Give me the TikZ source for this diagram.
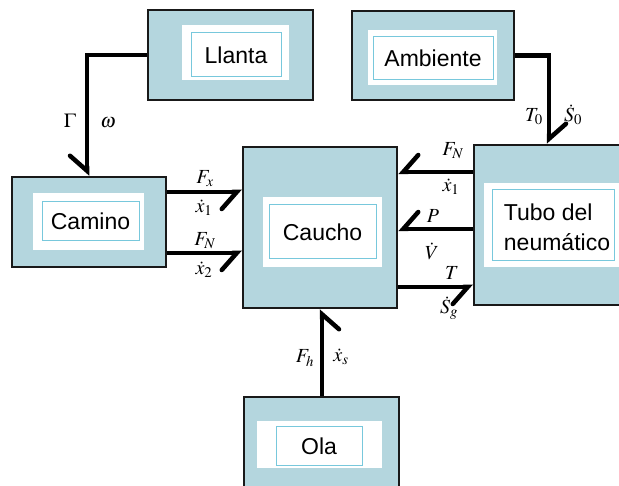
\documentclass[tikz,border=0pt]{standalone}
\usepackage{mathptmx}
\usepackage{fontspec}
\setmainfont{Liberation Sans}
\usetikzlibrary{arrows.meta,calc}
\definecolor{boxblue}{RGB}{180,214,222}
\definecolor{innercyan}{RGB}{120,200,220}
\begin{document}
\begin{tikzpicture}[x=1pt,y=-1pt,
  outer/.style={draw=black!90,line width=2.5pt,fill=boxblue,inner sep=0pt},
  whitebox/.style={fill=white,inner sep=0pt},
  textbox/.style={draw=innercyan,line width=1pt,fill=white,inner sep=0pt,font=\fontsize{23}{29}\selectfont},
  connR/.style={line width=4.5pt,-{Straight Barb[harpoon,swap,length=15pt,width=34pt,line cap=round]}},
  connL/.style={line width=4.5pt,-{Straight Barb[harpoon,length=15pt,width=34pt,line cap=round]}},
  lab/.style={font=\fontsize{20}{22}\selectfont,inner sep=0pt}]
\useasboundingbox (0,0) rectangle (619,486);
\clip (0,0) rectangle (619,486);

% Llanta
\node[outer,minimum width=165pt,minimum height=90pt] (llanta) at (230.5,55) {};
\node[whitebox,minimum width=107pt,minimum height=55pt] (llantaW) at (235.5,52.5) {};
\node[textbox,minimum width=90pt,minimum height=44pt] (llantaT) at (236,55) {Llanta};

% Ambiente
\node[outer,minimum width=162pt,minimum height=89pt] (ambiente) at (433,55.5) {};
\node[whitebox,minimum width=129pt,minimum height=55pt] (ambienteW) at (432.5,57.5) {};
\node[textbox,minimum width=120pt,minimum height=43pt] (ambienteT) at (433,58.5) {Ambiente};

% Camino
\node[outer,minimum width=154pt,minimum height=90pt] (camino) at (89,222) {};
\node[whitebox,minimum width=111pt,minimum height=57pt] (caminoW) at (88.5,221.5) {};
\node[textbox,minimum width=97pt,minimum height=39pt] (caminoT) at (90.5,221.5) {Camino};

% Caucho
\node[outer,minimum width=154pt,minimum height=161pt] (caucho) at (320,227.5) {};
\node[whitebox,minimum width=119pt,minimum height=70pt] (cauchoW) at (322.5,232) {};
\node[textbox,minimum width=107pt,minimum height=54pt] (cauchoT) at (322.5,232) {Caucho};

% Tubo
\node[outer,minimum width=166pt,minimum height=160pt] (tubo) at (557,225) {};
\node[whitebox,minimum width=146pt,minimum height=84pt] (tuboW) at (557,225) {};
\node[textbox,minimum width=122pt,minimum height=71pt] (tuboT) at (553,225.5) {};
\node[font=\fontsize{23}{30}\selectfont,align=left,inner sep=0pt] (tuboL) at (557,227) {Tubo del\\neumático};

% Ola
\node[outer,minimum width=155pt,minimum height=103pt] (ola) at (321.5,448.5) {};
\node[whitebox,minimum width=125pt,minimum height=47pt] (olaW) at (319.5,444.5) {};
\node[textbox,minimum width=86pt,minimum height=38pt] (olaT) at (319,446) {Ola};

% helper coordinates
\coordinate (yA) at (0,192);
\coordinate (yB) at (0,253);
\coordinate (yC) at (0,172);
\coordinate (yD) at (0,229);
\coordinate (yE) at (0,287);
\coordinate (xL) at (87,0);
\coordinate (xA) at (549,0);
\coordinate (xO) at (322,0);

% connectors
\draw[connR] (llanta.west) -| (camino.north -| xL);
\draw[connL] (ambiente.east) -| (tubo.north -| xA);
\draw[connR] (camino.east |- yA) -- (caucho.west |- yA);
\draw[connR] (camino.east |- yB) -- (caucho.west |- yB);
\draw[connR] (tubo.west |- yC) -- (caucho.east |- yC);
\draw[connR] (tubo.west |- yD) -- (caucho.east |- yD);
\draw[connR] (caucho.east |- yE) -- (tubo.west |- yE);
\draw[connR] (ola.north -| xO) -- (caucho.south -| xO);

% labels
\node[lab] (lGamma) at (70,121) {$\Gamma$};
\node[lab] (lomega) at (108,123) {$\omega$};
\node[lab] (lT0) at (534,117) {$T_0$};
\node[lab] (lS0) at (573,115) {$\dot S_0$};
\node[lab] (lFx) at (205,179) {$F_x$};
\node[lab] (lx1) at (204,208) {$\dot x_1$};
\node[lab] (lFN) at (205,241) {$F_N$};
\node[lab] (lx2) at (204,270) {$\dot x_2$};
\node[lab] (rFN) at (453,151) {$F_N$};
\node[lab] (rx1) at (451,187) {$\dot x_1$};
\node[lab] (rP) at (433,216) {$P$};
\node[lab] (rV) at (432,251) {$\dot V$};
\node[lab] (rT) at (452,273) {$T$};
\node[lab] (rSg) at (449,308) {$\dot S_g$};
\node[lab] (lFh) at (305,358) {$F_h$};
\node[lab] (lxs) at (341,357) {$\dot x_s$};
\end{tikzpicture}
\end{document}
